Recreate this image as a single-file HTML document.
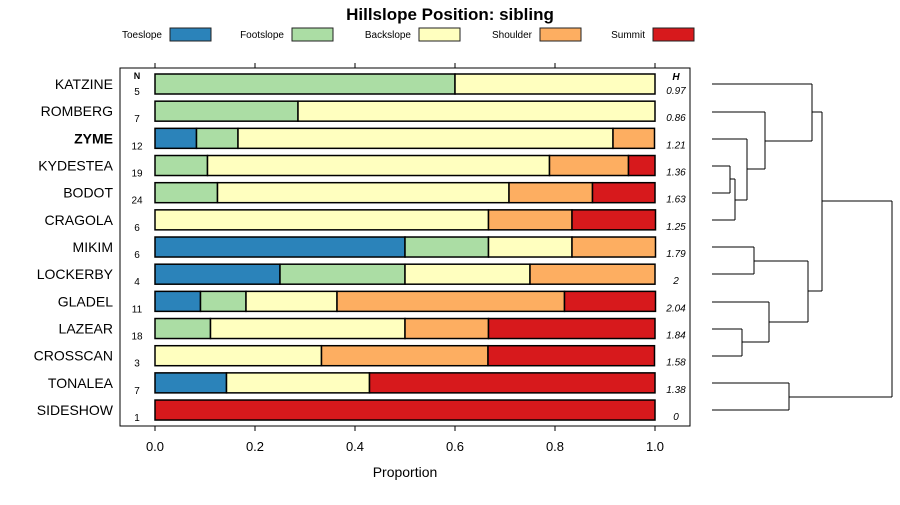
<!DOCTYPE html>
<html><head><meta charset="utf-8"><style>
body{margin:0;background:#fff;}
svg{font-family:"Liberation Sans",sans-serif;}
</style></head><body>
<svg id="chart" width="900" height="500">
<text x="450" y="20" text-anchor="middle" font-size="17" font-weight="bold">Hillslope Position: sibling</text>
<g id="legend"></g>
<rect x="120" y="68" width="570" height="358" fill="none" stroke="#000"/>
<g id="bars"></g>
<g id="axis"></g>
<text x="405" y="477" text-anchor="middle" font-size="14">Proportion</text>
<g id="dendro" fill="none" stroke="#000" stroke-width="1"></g>
</svg>
<script>
const classes=["Toeslope","Footslope","Backslope","Shoulder","Summit"];
const colors=["#2b83ba","#abdda4","#ffffbf","#fdae61","#d7191c"];
const soils=["KATZINE","ROMBERG","ZYME","KYDESTEA","BODOT","CRAGOLA","MIKIM","LOCKERBY","GLADEL","LAZEAR","CROSSCAN","TONALEA","SIDESHOW"];
const nValues=[5,7,12,19,24,6,6,4,11,18,3,7,1];
const hValues=["0.97","0.86","1.21","1.36","1.63","1.25","1.79","2","2.04","1.84","1.58","1.38","0"];
const toeslope=[0,0,0.083,0,0,0,0.5,0.25,0.091,0,0,0.143,0];
const footslope=[0.6,0.286,0.083,0.105,0.125,0,0.167,0.25,0.091,0.111,0,0,0];
const backslope=[0.4,0.714,0.75,0.684,0.583,0.667,0.167,0.25,0.182,0.389,0.333,0.286,0];
const shoulder=[0,0,0.083,0.158,0.167,0.167,0.167,0.25,0.455,0.167,0.333,0,0];
const summit=[0,0,0,0.053,0.125,0.167,0,0,0.182,0.333,0.333,0.571,1];
const ticks=[0,0.2,0.4,0.6,0.8,1.0];
const tickLabels=["0.0","0.2","0.4","0.6","0.8","1.0"];
const NS="http://www.w3.org/2000/svg";
const X=v=>155+v*500;
const Y=i=>84+i*27.17;
function mk(tag,attrs,parent,txt){const e=document.createElementNS(NS,tag);for(const k in attrs)e.setAttribute(k,attrs[k]);if(txt!==undefined)e.textContent=txt;parent.appendChild(e);return e;}
// legend
const lg=document.getElementById('legend');
const boxX=[170,292,419,540,653];
classes.forEach((c,i)=>{
 const t=mk('text',{x:boxX[i]-8,y:38,'text-anchor':'end','font-size':10},lg,c);
 
 
 const r=mk('rect',{x:boxX[i],y:28,width:41,height:13,fill:colors[i],stroke:'#222'},lg);
 
 
});
// bars
const bg=document.getElementById('bars');
const series=[toeslope,footslope,backslope,shoulder,summit];
mk('text',{x:137,y:79,'text-anchor':'middle','font-size':9,'font-weight':'bold'},bg,'N');
mk('text',{x:676,y:80,'text-anchor':'middle','font-size':10,'font-weight':'bold','font-style':'italic'},bg,'H');
soils.forEach((s,i)=>{
 const y=Y(i);
 const lab=mk('text',{x:113,y:y+5,'text-anchor':'end','font-size':14,'font-weight':s==='ZYME'?'bold':'normal'},bg,s);
 
 
 const nt=mk('text',{x:137,y:y+11,'text-anchor':'middle','font-size':10},bg,String(nValues[i]));
 
 
 const ht=mk('text',{x:676,y:y+10,'text-anchor':'middle','font-size':10,'font-style':'italic'},bg,hValues[i]);
 
 
 let cum=0;
 series.forEach((ser,k)=>{
  const v=ser[i]; if(v<=0)return;
  const r=mk('rect',{x:X(cum),y:y-10,width:X(cum+v)-X(cum),height:20,fill:colors[k],stroke:'#000','stroke-width':1.5},bg);
  
  
  cum+=v;
 });
});
// axis
const ax=document.getElementById('axis');
ticks.forEach((t,i)=>{
 mk('line',{x1:X(t),x2:X(t),y1:63,y2:68,stroke:'#000'},ax);
 mk('line',{x1:X(t),x2:X(t),y1:426,y2:431,stroke:'#000'},ax);
 const tl=mk('text',{x:X(t),y:451,'text-anchor':'middle','font-size':13},ax,tickLabels[i]);
 
 
});
// dendrogram
const dd=document.getElementById('dendro');
const segs=[
"M712 84H812","M712 112H765","M712 139H747","M712 166H730","M712 193H730","M730 166V193","M730 179H735","M712 220H735","M735 179V220","M735 200H747","M747 139V200","M747 169H765","M765 112V169","M765 141H812","M812 84V141","M812 112H822",
"M712 247H754","M712 274H754","M754 247V274","M754 261H808","M712 302H769","M712 329H742","M712 356H742","M742 329V356","M742 342H769","M769 302V342","M769 322H808","M808 261V322","M808 291H822","M822 112V291","M822 201H892",
"M712 383H789","M712 410H789","M789 383V410","M789 397H892","M892 201V397"];
const p=mk('path',{d:segs.join(' ')},dd);


</script>
</body></html>
